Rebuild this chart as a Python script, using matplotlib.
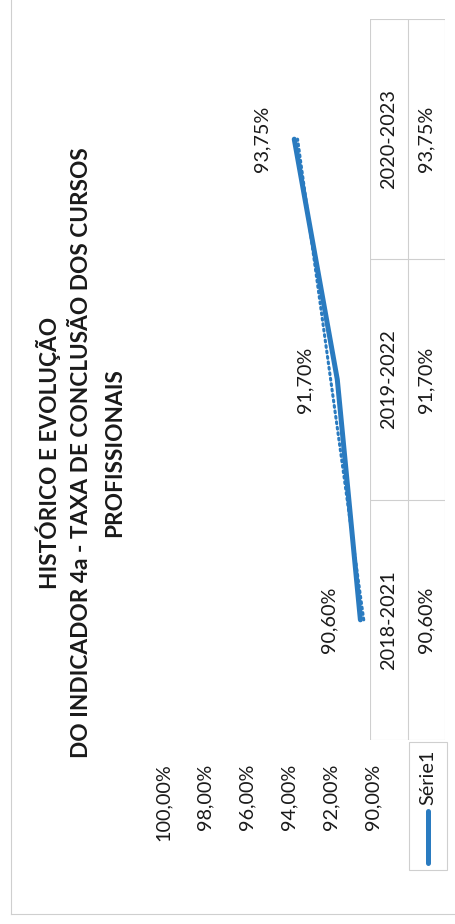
import matplotlib
matplotlib.use("Agg")
import matplotlib.pyplot as plt
from matplotlib.lines import Line2D
from matplotlib.patches import Rectangle
import numpy as np

plt.rcParams['font.family'] = ['Lato', 'DejaVu Sans']

# data
categories = ["2018-2021", "2019-2022", "2020-2023"]
values = [90.60, 91.70, 93.75]
value_labels = ["90,60%", "91,70%", "93,75%"]
yticks = [90, 92, 94, 96, 98, 100]
ytick_labels = ["90,00%", "92,00%", "94,00%", "96,00%", "98,00%", "100,00%"]
series_name = "Série1"
title_lines = ["HISTÓRICO E EVOLUÇÃO",
               "DO INDICADOR 4a - TAXA DE CONCLUSÃO DOS CURSOS",
               "PROFISSIONAIS"]

W, H = 455, 924
blue = "#2a7bc0"
txt = "#1a1a1a"
grid = "#cfcfcf"

fig = plt.figure(figsize=(W / 100, H / 100), dpi=100)


def fx(px):
    return px / W


def fy(py):
    return 1 - py / H


# chart is turned a quarter turn: value axis runs right->left, categories bottom->top
ax = fig.add_axes([fx(163), fy(740), fx(373) - fx(163), fy(19) - fy(740)])
idx = np.arange(len(categories))
ax.plot(values, idx, color=blue, lw=3.6, solid_capstyle='round', zorder=3)

# linear trend line
coef = np.polyfit(idx, values, 1)
ax.plot(np.polyval(coef, idx), idx, color=blue, lw=2.2, ls=(0, (0.6, 1.2)),
        dash_capstyle='round', zorder=2)

for v, i, lab in zip(values, idx, value_labels):
    ax.annotate(lab, (v, i), xytext=(-23, 0), textcoords='offset points',
                rotation=90, ha='center', va='center', fontsize=14.3, color=txt)

ax.set_xlim(100, 90)
ax.set_ylim(-0.5, len(categories) - 0.5)
ax.set_xticks(yticks)
ax.set_xticklabels(ytick_labels, rotation=90, fontsize=14.3, color=txt)
ax.tick_params(axis='x', length=0, pad=17)
ax.set_yticks([])
for s in ax.spines.values():
    s.set_visible(False)

# data table
tab = fig.add_axes([fx(370), fy(740), fx(445) - fx(370), fy(19) - fy(740)], sharey=ax)
tab.set_xlim(0, 1)
tab.axis('off')
for xv in [0, 0.5, 1]:
    tab.plot([xv, xv], [-0.5, len(categories) - 0.5], color=grid, lw=0.8)
for yv in np.arange(-0.5, len(categories), 1.0):
    tab.plot([0, 1], [yv, yv], color=grid, lw=0.8)
for i, (c, lab) in enumerate(zip(categories, value_labels)):
    tab.text(0.25, i, c, rotation=90, ha='center', va='center', fontsize=14.3, color=txt)
    tab.text(0.75, i, lab, rotation=90, ha='center', va='center', fontsize=14.3, color=txt)

# legend cell
fig.add_artist(Rectangle((fx(409), fy(870)), fx(447) - fx(409), fy(742) - fy(870),
                         transform=fig.transFigure, fill=False, ec=grid, lw=0.8))
fig.add_artist(Line2D([fx(428), fx(428)], [fy(863), fy(811)], transform=fig.transFigure,
                      color=blue, lw=3.6, solid_capstyle='round'))
fig.text(fx(428), fy(777), series_name, rotation=90, ha='center', va='center',
         fontsize=14.3, color=txt)

# title
for k, line in enumerate(title_lines):
    fig.text(fx(48 + 33.5 * k), fy(453), line, rotation=90, ha='center', va='center',
             fontsize=16.3, fontweight='bold', color=txt)

# outer frame
fig.add_artist(Line2D([fx(11), fx(11)], [fy(0), fy(914)], transform=fig.transFigure,
                      color=grid, lw=0.8))
fig.add_artist(Line2D([fx(11), fx(455)], [fy(914), fy(914)], transform=fig.transFigure,
                      color=grid, lw=0.8))

fig.savefig("out.png", dpi=100)
